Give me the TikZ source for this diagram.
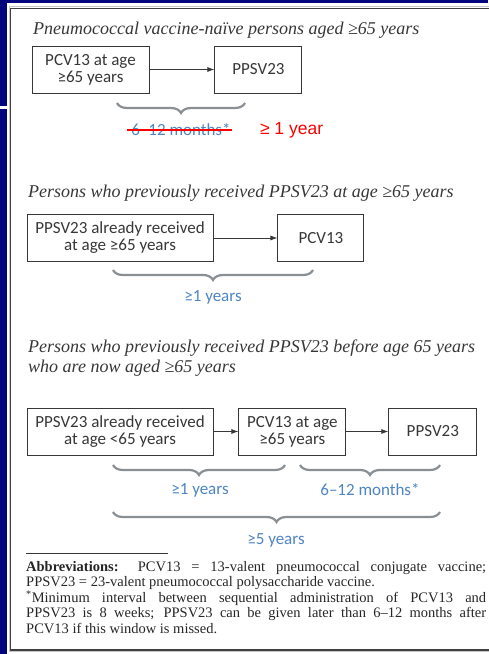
\documentclass[tikz,border=0pt]{standalone}
\usepackage{fontspec}
\setmainfont{Liberation Serif}
\newfontfamily\boxfont{Carlito}
\newfontfamily\slidefont{Liberation Sans}
\usepackage{xcolor}
\usetikzlibrary{arrows.meta,positioning,decorations.pathreplacing}
\definecolor{slidenavy}{RGB}{4,4,124}
\definecolor{inkgray}{RGB}{55,55,55}
\definecolor{bracegray}{RGB}{138,143,148}
\definecolor{gapblue}{RGB}{78,132,196}

\begin{document}
\begin{tikzpicture}[x=1pt,y=1pt,
  vbox/.style={draw=inkgray,line width=0.9pt,minimum height=47pt,inner sep=2pt,align=center,
    font=\boxfont\fontsize{17}{17}\selectfont,text=inkgray},
  heading/.style={anchor=base west,inner sep=0pt,align=left,
    font=\itshape\fontsize{18}{20}\selectfont,text=inkgray},
  gap/.style={decorate,decoration={brace,mirror,amplitude=10pt},draw=bracegray,line width=2.2pt},
  gaplabel/.style={inner sep=0pt,font=\boxfont\fontsize{17}{18}\selectfont,text=gapblue},
  next/.style={-{Latex[length=7pt,width=5pt]},draw=inkgray,line width=0.8pt}]
\useasboundingbox (0,0) rectangle (488,654);
\fill[slidenavy] (0,0) rectangle (7,654);
\fill[slidenavy] (0,650.5) rectangle (488,654);
\fill[white] (0,545) rectangle (7,547.5);
\draw[gray!45,line width=1pt] (490,2.5) -- (9,2.5) -- (9,647) -- (490,647);
\draw[black!75,line width=1.3pt] (490,4) -- (10.5,4) -- (10.5,645.5) -- (490,645.5);

\node[heading] (naive) at (33,619) {Pneumococcal vaccine-naïve persons aged ≥65 years};
\node[vbox,minimum width=117pt] (pcvA) at (90.5,584.5) {PCV13 at age\\≥65 years};
\node[vbox,minimum width=87pt,right=65pt of pcvA] (ppsvA) {PPSV23};
\draw[next] (pcvA) -- (ppsvA);
\coordinate (gapA1) at (117,551);
\coordinate (gapA2) at (245,551);
\draw[gap] (gapA1) -- (gapA2);
\node[gaplabel] (oldgap) at (181,524) {6–12 months*};
\draw[red,line width=1.8pt] ([xshift=-4pt]oldgap.west) -- ([xshift=1pt]oldgap.east);
\node[right=29pt of oldgap,inner sep=0pt,text=red,font=\slidefont\fontsize{17.5}{20}\selectfont] (newgap) {≥ 1 year};

\node[heading] (after) at (28,456) {Persons who previously received PPSV23 at age ≥65 years};
\node[vbox,minimum width=186pt] (ppsvB) at (120,416) {PPSV23 already received\\at age ≥65 years};
\node[vbox,minimum width=86pt,right=64pt of ppsvB] (pcvB) {PCV13};
\draw[next] (ppsvB) -- (pcvB);
\coordinate (gapB1) at (113,384);
\coordinate (gapB2) at (313,384);
\draw[gap] (gapB1) -- (gapB2);
\node[gaplabel] (yearB) at (213,357) {≥1 years};

\node[heading] (before) at (28,281) {Persons who previously received PPSV23 before age 65 years\\who are now aged ≥65 years};
\node[vbox,minimum width=186pt] (ppsvC) at (120,222.5) {PPSV23 already received\\at age <65 years};
\node[vbox,minimum width=107pt,right=25pt of ppsvC] (pcvC) {PCV13 at age\\≥65 years};
\node[vbox,minimum width=88pt,right=42pt of pcvC] (ppsvD) {PPSV23};
\draw[next] (ppsvC) -- (pcvC);
\draw[next] (pcvC) -- (ppsvD);
\coordinate (gapC1) at (113,189);
\coordinate (gapC2) at (285,189);
\coordinate (gapC3) at (300,189);
\coordinate (gapC4) at (440,189);
\coordinate (gapC5) at (113,142);
\coordinate (gapC6) at (440,142);
\draw[gap] (gapC1) -- (gapC2);
\draw[gap] (gapC3) -- (gapC4);
\draw[gap] (gapC5) -- (gapC6);
\node[gaplabel] (yearC) at (200,164) {≥1 years};
\node[gaplabel] (monthC) at (370,164) {6–12 months*};
\node[gaplabel] (fiveC) at (276,114) {≥5 years};

\draw[inkgray,line width=0.9pt] (26,101) -- (168,101);
\node[anchor=north west,inner sep=0pt,text width=460pt,align=justify,text=black!85,
  font=\fontsize{14.5}{15.5}\selectfont] (abbrev) at (26,93)
  {\textbf{Abbreviations:} PCV13 = 13-valent pneumococcal conjugate vaccine;\linebreak PPSV23 = 23-valent pneumococcal polysaccharide vaccine.\par
  \hangindent=7pt\hangafter=1 \textsuperscript{*}Minimum interval between sequential administration of PCV13 and\linebreak PPSV23 is 8 weeks; PPSV23 can be given later than 6–12 months after\linebreak PCV13 if this window is missed.};
\end{tikzpicture}
\end{document}
